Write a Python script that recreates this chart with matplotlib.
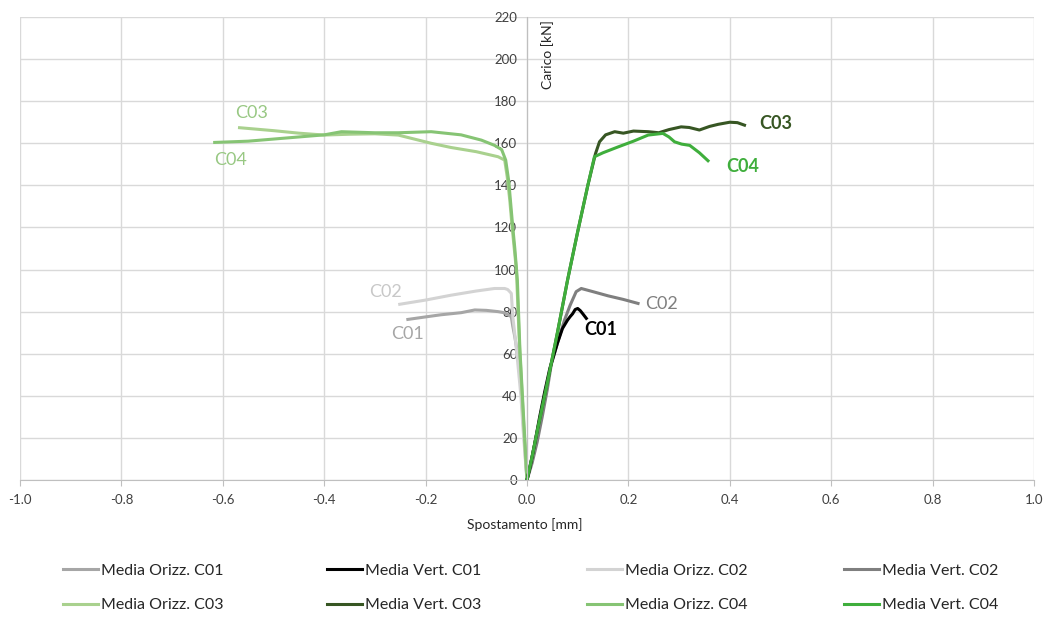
import matplotlib
matplotlib.use("Agg")
import matplotlib.pyplot as plt

plt.rcParams['font.family'] = ['Lato', 'DejaVu Sans']

# ---------------- data ----------------
# Media Vert. (right branch, positive displacement)
vc01_x = [0, 0.005, 0.015, 0.025, 0.035, 0.045, 0.05, 0.06, 0.07, 0.08, 0.085, 0.09, 0.095, 0.10, 0.105, 0.11, 0.117]
vc01_y = [0, 5, 17, 30, 42, 53, 57, 65, 72, 76, 77.6, 79, 81, 81.5, 80.5, 79, 76.8]

vc02_x = [0, 0.01, 0.02, 0.03, 0.04, 0.048, 0.06, 0.074, 0.085, 0.097, 0.107, 0.13, 0.16, 0.19, 0.219]
vc02_y = [0, 8, 18, 30, 43, 55, 65, 76, 83, 89.5, 91, 89.5, 87.5, 85.8, 83.9]

vc03_x = [0, 0.01, 0.02, 0.04, 0.06, 0.08, 0.1, 0.12, 0.135, 0.143, 0.155, 0.173, 0.19, 0.21,
          0.239, 0.26, 0.28, 0.304, 0.32, 0.34, 0.36, 0.377, 0.40, 0.415, 0.429]
vc03_y = [0, 11, 23, 46, 70, 95, 118, 140, 155, 160.7, 164, 165.5, 164.8, 165.8,
          165.5, 165, 166.5, 167.8, 167.5, 166.3, 168, 169, 170, 169.8, 168.6]

vc04_x = [0, 0.01, 0.02, 0.04, 0.06, 0.08, 0.1, 0.12, 0.133, 0.15, 0.18, 0.21, 0.239, 0.268,
          0.28, 0.291, 0.305, 0.321, 0.34, 0.357]
vc04_y = [0, 11, 23, 46, 70, 95, 118, 140, 153.6, 155.5, 158.3, 161, 163.9, 164.7,
          163, 160.7, 159.6, 159, 155.5, 151.7]

# Media Orizz. (left branch, negative displacement)
oc01_x = [0, -0.003, -0.006, -0.011, -0.016, -0.02, -0.024, -0.028, -0.031, -0.045, -0.057,
          -0.08, -0.103, -0.13, -0.17, -0.2, -0.235]
oc01_y = [0, 10, 22, 41, 55, 62, 68, 73, 77.6, 79.5, 80, 80.6, 80.8, 79.5, 78.5, 77.5, 76.3]

oc02_x = [0, -0.004, -0.008, -0.012, -0.018, -0.023, -0.028, -0.031, -0.038, -0.044, -0.064,
          -0.1, -0.15, -0.2, -0.251]
oc02_y = [0, 12, 25, 40, 55, 67, 77.6, 88.7, 90.5, 91, 91, 89.8, 87.8, 85.5, 83.5]

oc03_x = [0, -0.005, -0.01, -0.015, -0.021, -0.026, -0.03, -0.034, -0.039, -0.044, -0.057,
          -0.1, -0.15, -0.189, -0.254, -0.3, -0.35, -0.4, -0.45, -0.5, -0.567]
oc03_y = [0, 20, 42, 65, 100, 112, 122, 133, 144, 152, 153.6, 156, 158, 160, 163.9,
          164.5, 164.3, 163.9, 164.8, 166, 167.4]

oc04_x = [0, -0.004, -0.009, -0.014, -0.019, -0.024, -0.028, -0.032, -0.036, -0.042, -0.05,
          -0.064, -0.09, -0.13, -0.189, -0.254, -0.3, -0.366, -0.4, -0.45, -0.5, -0.55, -0.616]
oc04_y = [0, 18, 40, 62, 95, 110, 120, 131, 142, 152, 157, 159, 161.5, 164, 165.5, 165,
          165, 165.5, 164, 163, 162, 161, 160.4]

x_ticks = [-1.0, -0.8, -0.6, -0.4, -0.2, 0.0, 0.2, 0.4, 0.6, 0.8, 1.0]
y_ticks = list(range(0, 221, 20))

c_oc01 = '#a6a6a6'
c_vc01 = '#000000'
c_oc02 = '#d3d3d3'
c_vc02 = '#7f7f7f'
c_oc03 = '#a9d18e'
c_vc03 = '#375623'
c_oc04 = '#86c474'
c_vc04 = '#3fae3c'

# ---------------- figure ----------------
fig = plt.figure(figsize=(10.52, 6.17), dpi=100)
ax = fig.add_axes([20/1052, 1-480/617, (1034-20)/1052, (480-17)/617])

lw = 2.2
l_oc01, = ax.plot(oc01_x, oc01_y, color=c_oc01, lw=lw, label='Media Orizz. C01')
l_oc02, = ax.plot(oc02_x, oc02_y, color=c_oc02, lw=lw, label='Media Orizz. C02')
l_oc03, = ax.plot(oc03_x, oc03_y, color=c_oc03, lw=lw, label='Media Orizz. C03')
l_oc04, = ax.plot(oc04_x, oc04_y, color=c_oc04, lw=lw, label='Media Orizz. C04')
l_vc02, = ax.plot(vc02_x, vc02_y, color=c_vc02, lw=lw, label='Media Vert. C02')
l_vc01, = ax.plot(vc01_x, vc01_y, color=c_vc01, lw=lw, label='Media Vert. C01')
l_vc03, = ax.plot(vc03_x, vc03_y, color=c_vc03, lw=lw, label='Media Vert. C03')
l_vc04, = ax.plot(vc04_x, vc04_y, color=c_vc04, lw=lw, label='Media Vert. C04')

ax.set_xlim(-1.0, 1.0)
ax.set_ylim(0, 220)
ax.set_xticks(x_ticks)
ax.set_xticklabels([f'{v:.1f}' for v in x_ticks])
ax.set_yticks(y_ticks)
ax.set_yticklabels([str(v) for v in y_ticks])
ax.grid(True, color='#d9d9d9', lw=1.0)
ax.set_axisbelow(True)

for s in ['top', 'right']:
    ax.spines[s].set_visible(False)
ax.spines['left'].set_position(('data', 0))
ax.spines['left'].set_color('#bfbfbf')
ax.spines['bottom'].set_color('#bfbfbf')
ax.tick_params(axis='y', length=0, pad=7, labelsize=9.5, labelcolor='#404040')
ax.tick_params(axis='x', length=4, color='#bfbfbf', pad=6, labelsize=9.5, labelcolor='#404040')

ax.text(0.04, 218.5, 'Carico [kN]', rotation=90, ha='center', va='top',
        fontsize=10, color='#262626')
fig.text(525/1052, 1-525/617, 'Spostamento [mm]', ha='center', va='center',
         fontsize=10, color='#262626')

# curve labels
ax.text(-0.544, 174.3, 'C03', color='#98c883', fontsize=13, ha='center', va='center')
ax.text(-0.584, 152.0, 'C04', color='#98c883', fontsize=13, ha='center', va='center')
ax.text(-0.28, 89.3, 'C02', color='#c8c8c8', fontsize=13, ha='center', va='center')
ax.text(-0.235, 69.4, 'C01', color='#a6a6a6', fontsize=13, ha='center', va='center')
ax.text(0.266, 83.6, 'C02', color='#7f7f7f', fontsize=13, ha='center', va='center')
ax.text(0.146, 71.3, 'C01', color='#000000', fontsize=13, ha='center', va='center', fontweight='bold')
ax.text(0.491, 169.6, 'C03', color='#375623', fontsize=13, ha='center', va='center', fontweight='bold')
ax.text(0.426, 149.2, 'C04', color='#3fae3c', fontsize=13, ha='center', va='center', fontweight='bold')

# legend: four columns placed manually
cols = [(63, [l_oc01, l_oc03]), (327, [l_vc01, l_vc03]),
        (587, [l_oc02, l_oc04]), (844, [l_vc02, l_vc04])]
for xpx, hs in cols:
    leg = fig.legend(handles=hs, labels=[h.get_label() for h in hs],
                     loc='center left', bbox_to_anchor=(xpx/1052, 1-588/617),
                     frameon=False, fontsize=11.5, handlelength=2.2, handletextpad=0.15,
                     borderpad=0, borderaxespad=0, labelspacing=1.25)
    for t in leg.get_texts():
        t.set_color('#262626')

fig.savefig('out.png', dpi=100)
